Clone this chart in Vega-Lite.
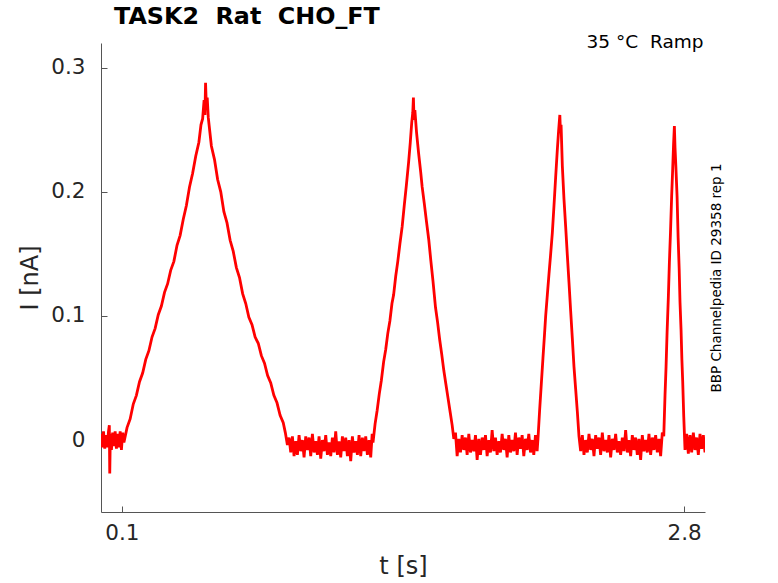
{
  "$schema": "https://vega.github.io/schema/vega-lite/v6.json",
  "width": 604,
  "height": 469,
  "autosize": {"type": "none"},
  "padding": {"left": 101, "top": 43, "right": 73, "bottom": 71},
  "title": {
    "text": "TASK2 \u00a0Rat \u00a0CHO_FT",
    "anchor": "start",
    "frame": "group",
    "dx": 13,
    "offset": -16,
    "baseline": "alphabetic",
    "fontSize": 23.8,
    "fontWeight": "bold",
    "font": "DejaVu Sans",
    "color": "#000000"
  },
  "data": {
    "values": [
      {"t": 0.000, "i": 0.005}, {"t": 0.006, "i": -0.006}, {"t": 0.012, "i": 0.007}, {"t": 0.018, "i": -0.007},
      {"t": 0.024, "i": 0.004}, {"t": 0.030, "i": -0.006}, {"t": 0.036, "i": 0.007}, {"t": 0.040, "i": 0.012},
      {"t": 0.042, "i": -0.027}, {"t": 0.045, "i": 0.005}, {"t": 0.050, "i": -0.008}, {"t": 0.056, "i": 0.006},
      {"t": 0.062, "i": -0.005}, {"t": 0.068, "i": 0.007}, {"t": 0.074, "i": -0.007}, {"t": 0.080, "i": 0.005},
      {"t": 0.086, "i": -0.006}, {"t": 0.092, "i": 0.007}, {"t": 0.098, "i": -0.008}, {"t": 0.104, "i": 0.006},
      {"t": 0.110, "i": -0.002}, {"t": 0.125, "i": 0.010}, {"t": 0.140, "i": 0.017}, {"t": 0.155, "i": 0.029},
      {"t": 0.170, "i": 0.036}, {"t": 0.185, "i": 0.047}, {"t": 0.200, "i": 0.054}, {"t": 0.215, "i": 0.065},
      {"t": 0.230, "i": 0.072}, {"t": 0.245, "i": 0.083}, {"t": 0.260, "i": 0.090}, {"t": 0.275, "i": 0.101},
      {"t": 0.290, "i": 0.108}, {"t": 0.305, "i": 0.119}, {"t": 0.320, "i": 0.126}, {"t": 0.335, "i": 0.137},
      {"t": 0.350, "i": 0.144}, {"t": 0.365, "i": 0.157}, {"t": 0.380, "i": 0.165}, {"t": 0.395, "i": 0.178},
      {"t": 0.410, "i": 0.189}, {"t": 0.425, "i": 0.204}, {"t": 0.440, "i": 0.215}, {"t": 0.455, "i": 0.229},
      {"t": 0.470, "i": 0.240}, {"t": 0.480, "i": 0.254}, {"t": 0.488, "i": 0.259}, {"t": 0.495, "i": 0.274},
      {"t": 0.499, "i": 0.262}, {"t": 0.502, "i": 0.288}, {"t": 0.506, "i": 0.268}, {"t": 0.510, "i": 0.276},
      {"t": 0.515, "i": 0.260}, {"t": 0.530, "i": 0.237}, {"t": 0.545, "i": 0.226}, {"t": 0.560, "i": 0.210},
      {"t": 0.575, "i": 0.200}, {"t": 0.590, "i": 0.184}, {"t": 0.605, "i": 0.175}, {"t": 0.620, "i": 0.161},
      {"t": 0.635, "i": 0.152}, {"t": 0.650, "i": 0.139}, {"t": 0.665, "i": 0.131}, {"t": 0.680, "i": 0.118},
      {"t": 0.695, "i": 0.110}, {"t": 0.710, "i": 0.099}, {"t": 0.725, "i": 0.093}, {"t": 0.740, "i": 0.083},
      {"t": 0.755, "i": 0.078}, {"t": 0.770, "i": 0.068}, {"t": 0.785, "i": 0.062}, {"t": 0.800, "i": 0.052},
      {"t": 0.815, "i": 0.046}, {"t": 0.830, "i": 0.036}, {"t": 0.845, "i": 0.030}, {"t": 0.860, "i": 0.020},
      {"t": 0.875, "i": 0.014}, {"t": 0.885, "i": 0.006}, {"t": 0.895, "i": -0.004},
      {"t": 0.903, "i": 0.002}, {"t": 0.911, "i": -0.010}, {"t": 0.919, "i": 0.003}, {"t": 0.927, "i": -0.013},
      {"t": 0.935, "i": -0.001}, {"t": 0.943, "i": -0.012}, {"t": 0.951, "i": 0.004}, {"t": 0.959, "i": -0.009},
      {"t": 0.967, "i": 0.000}, {"t": 0.975, "i": -0.014}, {"t": 0.983, "i": 0.003}, {"t": 0.991, "i": -0.008},
      {"t": 0.999, "i": 0.002}, {"t": 1.007, "i": -0.013}, {"t": 1.015, "i": 0.005}, {"t": 1.023, "i": -0.010},
      {"t": 1.031, "i": -0.001}, {"t": 1.039, "i": -0.012}, {"t": 1.047, "i": 0.003}, {"t": 1.055, "i": -0.015},
      {"t": 1.063, "i": 0.000}, {"t": 1.071, "i": -0.009}, {"t": 1.079, "i": 0.004}, {"t": 1.087, "i": -0.012},
      {"t": 1.095, "i": -0.002}, {"t": 1.103, "i": -0.013}, {"t": 1.111, "i": 0.002}, {"t": 1.119, "i": -0.010},
      {"t": 1.127, "i": 0.007}, {"t": 1.135, "i": -0.012}, {"t": 1.143, "i": -0.001}, {"t": 1.151, "i": -0.014},
      {"t": 1.159, "i": 0.003}, {"t": 1.167, "i": -0.009}, {"t": 1.175, "i": 0.002}, {"t": 1.183, "i": -0.013},
      {"t": 1.191, "i": 0.000}, {"t": 1.199, "i": -0.017}, {"t": 1.207, "i": 0.003}, {"t": 1.215, "i": -0.010},
      {"t": 1.223, "i": -0.001}, {"t": 1.231, "i": -0.012}, {"t": 1.239, "i": 0.004}, {"t": 1.247, "i": -0.013},
      {"t": 1.255, "i": 0.002}, {"t": 1.263, "i": -0.009}, {"t": 1.271, "i": 0.003}, {"t": 1.279, "i": -0.012},
      {"t": 1.287, "i": 0.000}, {"t": 1.295, "i": -0.014}, {"t": 1.302, "i": 0.005},
      {"t": 1.306, "i": -0.002}, {"t": 1.316, "i": 0.013}, {"t": 1.326, "i": 0.024}, {"t": 1.336, "i": 0.037},
      {"t": 1.346, "i": 0.048}, {"t": 1.357, "i": 0.063}, {"t": 1.367, "i": 0.073}, {"t": 1.377, "i": 0.086},
      {"t": 1.387, "i": 0.096}, {"t": 1.397, "i": 0.110}, {"t": 1.405, "i": 0.117}, {"t": 1.415, "i": 0.132},
      {"t": 1.425, "i": 0.144}, {"t": 1.435, "i": 0.158}, {"t": 1.446, "i": 0.172}, {"t": 1.456, "i": 0.189},
      {"t": 1.466, "i": 0.205}, {"t": 1.477, "i": 0.224}, {"t": 1.485, "i": 0.240}, {"t": 1.492, "i": 0.256},
      {"t": 1.497, "i": 0.264}, {"t": 1.500, "i": 0.276}, {"t": 1.503, "i": 0.258}, {"t": 1.507, "i": 0.266},
      {"t": 1.515, "i": 0.248}, {"t": 1.525, "i": 0.231}, {"t": 1.535, "i": 0.216}, {"t": 1.542, "i": 0.204},
      {"t": 1.552, "i": 0.191}, {"t": 1.562, "i": 0.177}, {"t": 1.574, "i": 0.161}, {"t": 1.584, "i": 0.144},
      {"t": 1.594, "i": 0.128}, {"t": 1.606, "i": 0.107}, {"t": 1.616, "i": 0.095}, {"t": 1.626, "i": 0.081},
      {"t": 1.636, "i": 0.069}, {"t": 1.646, "i": 0.056}, {"t": 1.656, "i": 0.045}, {"t": 1.666, "i": 0.034},
      {"t": 1.676, "i": 0.023}, {"t": 1.686, "i": 0.012}, {"t": 1.694, "i": 0.001},
      {"t": 1.702, "i": 0.006}, {"t": 1.710, "i": -0.013}, {"t": 1.718, "i": 0.001}, {"t": 1.726, "i": -0.010},
      {"t": 1.734, "i": 0.004}, {"t": 1.742, "i": -0.008}, {"t": 1.750, "i": 0.002}, {"t": 1.758, "i": -0.012},
      {"t": 1.766, "i": 0.005}, {"t": 1.774, "i": -0.010}, {"t": 1.782, "i": 0.000}, {"t": 1.790, "i": -0.009},
      {"t": 1.798, "i": 0.004}, {"t": 1.806, "i": -0.016}, {"t": 1.814, "i": 0.001}, {"t": 1.822, "i": -0.012},
      {"t": 1.830, "i": 0.002}, {"t": 1.838, "i": -0.008}, {"t": 1.846, "i": 0.004}, {"t": 1.854, "i": -0.013},
      {"t": 1.862, "i": 0.000}, {"t": 1.870, "i": -0.010}, {"t": 1.878, "i": 0.008}, {"t": 1.886, "i": -0.009},
      {"t": 1.894, "i": 0.002}, {"t": 1.902, "i": -0.012}, {"t": 1.910, "i": -0.001}, {"t": 1.918, "i": -0.010},
      {"t": 1.926, "i": 0.005}, {"t": 1.934, "i": -0.008}, {"t": 1.942, "i": 0.001}, {"t": 1.950, "i": -0.014},
      {"t": 1.958, "i": 0.004}, {"t": 1.966, "i": -0.010}, {"t": 1.974, "i": 0.000}, {"t": 1.982, "i": -0.009},
      {"t": 1.990, "i": 0.006}, {"t": 1.998, "i": -0.012}, {"t": 2.006, "i": 0.002}, {"t": 2.014, "i": -0.007},
      {"t": 2.022, "i": 0.004}, {"t": 2.030, "i": -0.013}, {"t": 2.038, "i": 0.001}, {"t": 2.046, "i": -0.008},
      {"t": 2.054, "i": 0.005}, {"t": 2.062, "i": -0.010}, {"t": 2.070, "i": 0.000}, {"t": 2.078, "i": -0.012},
      {"t": 2.086, "i": 0.004}, {"t": 2.094, "i": -0.009},
      {"t": 2.098, "i": 0.001}, {"t": 2.106, "i": 0.024}, {"t": 2.114, "i": 0.045}, {"t": 2.122, "i": 0.066},
      {"t": 2.129, "i": 0.084}, {"t": 2.135, "i": 0.100}, {"t": 2.143, "i": 0.117}, {"t": 2.151, "i": 0.134},
      {"t": 2.159, "i": 0.150}, {"t": 2.167, "i": 0.167}, {"t": 2.175, "i": 0.189}, {"t": 2.183, "i": 0.212},
      {"t": 2.191, "i": 0.234}, {"t": 2.197, "i": 0.249}, {"t": 2.203, "i": 0.262}, {"t": 2.206, "i": 0.248},
      {"t": 2.209, "i": 0.254}, {"t": 2.215, "i": 0.221}, {"t": 2.223, "i": 0.194}, {"t": 2.231, "i": 0.172},
      {"t": 2.239, "i": 0.149}, {"t": 2.247, "i": 0.127}, {"t": 2.255, "i": 0.104}, {"t": 2.263, "i": 0.082},
      {"t": 2.271, "i": 0.059}, {"t": 2.279, "i": 0.041}, {"t": 2.287, "i": 0.023}, {"t": 2.295, "i": 0.003},
      {"t": 2.303, "i": -0.009}, {"t": 2.311, "i": 0.004}, {"t": 2.319, "i": -0.012}, {"t": 2.327, "i": 0.000},
      {"t": 2.335, "i": -0.010}, {"t": 2.343, "i": 0.005}, {"t": 2.351, "i": -0.008}, {"t": 2.359, "i": 0.001},
      {"t": 2.367, "i": -0.013}, {"t": 2.375, "i": 0.004}, {"t": 2.383, "i": -0.007}, {"t": 2.391, "i": 0.002},
      {"t": 2.399, "i": -0.012}, {"t": 2.407, "i": 0.006}, {"t": 2.415, "i": -0.009}, {"t": 2.423, "i": 0.000},
      {"t": 2.431, "i": -0.010}, {"t": 2.439, "i": 0.004}, {"t": 2.447, "i": -0.014}, {"t": 2.455, "i": 0.001},
      {"t": 2.463, "i": -0.008}, {"t": 2.471, "i": 0.005}, {"t": 2.479, "i": -0.010}, {"t": 2.487, "i": -0.001},
      {"t": 2.495, "i": -0.012}, {"t": 2.503, "i": 0.002}, {"t": 2.511, "i": -0.009}, {"t": 2.519, "i": 0.008},
      {"t": 2.527, "i": -0.010}, {"t": 2.535, "i": 0.000}, {"t": 2.543, "i": -0.013}, {"t": 2.551, "i": 0.004},
      {"t": 2.559, "i": -0.008}, {"t": 2.567, "i": 0.002}, {"t": 2.575, "i": -0.012}, {"t": 2.583, "i": 0.001},
      {"t": 2.591, "i": -0.016}, {"t": 2.599, "i": 0.004}, {"t": 2.607, "i": -0.009}, {"t": 2.615, "i": 0.000},
      {"t": 2.623, "i": -0.010}, {"t": 2.631, "i": 0.005}, {"t": 2.639, "i": -0.012}, {"t": 2.647, "i": 0.002},
      {"t": 2.655, "i": -0.008}, {"t": 2.663, "i": 0.004}, {"t": 2.671, "i": -0.010}, {"t": 2.679, "i": 0.001},
      {"t": 2.687, "i": -0.013}, {"t": 2.695, "i": 0.006},
      {"t": 2.702, "i": 0.003}, {"t": 2.708, "i": 0.036}, {"t": 2.713, "i": 0.059}, {"t": 2.718, "i": 0.087},
      {"t": 2.724, "i": 0.115}, {"t": 2.729, "i": 0.143}, {"t": 2.734, "i": 0.166}, {"t": 2.740, "i": 0.197},
      {"t": 2.745, "i": 0.219}, {"t": 2.749, "i": 0.238}, {"t": 2.753, "i": 0.253}, {"t": 2.756, "i": 0.236},
      {"t": 2.760, "i": 0.221}, {"t": 2.766, "i": 0.196}, {"t": 2.771, "i": 0.163}, {"t": 2.776, "i": 0.138},
      {"t": 2.780, "i": 0.111}, {"t": 2.785, "i": 0.089}, {"t": 2.789, "i": 0.065}, {"t": 2.793, "i": 0.047},
      {"t": 2.798, "i": 0.019}, {"t": 2.804, "i": -0.008},
      {"t": 2.812, "i": 0.005}, {"t": 2.820, "i": -0.011}, {"t": 2.828, "i": 0.004}, {"t": 2.836, "i": -0.010},
      {"t": 2.844, "i": 0.006}, {"t": 2.852, "i": -0.008}, {"t": 2.860, "i": 0.002}, {"t": 2.868, "i": -0.012},
      {"t": 2.876, "i": 0.005}, {"t": 2.884, "i": -0.007}, {"t": 2.892, "i": 0.004}, {"t": 2.900, "i": -0.010}
    ]
  },
  "layer": [
    {
      "mark": {"type": "line", "color": "#ff0000", "strokeWidth": 2.8, "clip": true},
      "encoding": {
        "x": {
          "field": "t",
          "type": "quantitative",
          "scale": {"domain": [0, 2.9], "nice": false, "zero": false},
          "axis": {
            "orient": "bottom",
            "title": "t [s]",
            "values": [0.1, 2.8],
            "format": ".1f",
            "grid": false,
            "tickSize": -6,
            "labelPadding": 16,
            "labelFontSize": 21.5,
            "labelFlush": false,
            "titleFontSize": 24,
            "titleFontWeight": "normal",
            "titlePadding": 11
          }
        },
        "y": {
          "field": "i",
          "type": "quantitative",
          "scale": {"domain": [-0.058, 0.32], "nice": false, "zero": false},
          "axis": {
            "orient": "left",
            "title": "I [nA]",
            "values": [0, 0.1, 0.2, 0.3],
            "format": ".1~f",
            "grid": false,
            "tickSize": -6,
            "labelPadding": 22,
            "labelFontSize": 21.5,
            "titleFontSize": 24,
            "titleFontWeight": "normal",
            "titlePadding": 8
          }
        }
      }
    },
    {
      "mark": {"type": "line", "opacity": 0},
      "encoding": {
        "x": {
          "field": "t",
          "type": "quantitative",
          "axis": {
            "orient": "top",
            "title": "35 °C \u00a0Ramp",
            "domain": false,
            "ticks": false,
            "labels": false,
            "grid": false,
            "titleFontSize": 18.5,
            "titleFontWeight": "normal",
            "titleColor": "#000000",
            "titleAnchor": "end",
            "titleAlign": "right",
            "titleX": 602,
            "titleBaseline": "alphabetic",
            "titlePadding": -4
          }
        },
        "y": {
          "field": "i",
          "type": "quantitative",
          "axis": {
            "orient": "right",
            "title": "BBP Channelpedia ID 29358 rep 1",
            "domain": false,
            "ticks": false,
            "labels": false,
            "grid": false,
            "titleFontSize": 13.5,
            "titleFontWeight": "normal",
            "titleColor": "#000000",
            "titleAngle": 270,
            "titleBaseline": "top",
            "titlePadding": 4
          }
        }
      }
    }
  ],
  "resolve": {"axis": {"x": "independent", "y": "independent"}},
  "config": {
    "view": {"stroke": null},
    "font": "DejaVu Sans",
    "axis": {
      "domainColor": "#555555",
      "tickColor": "#555555",
      "labelColor": "#262626",
      "titleColor": "#262626",
      "labelFont": "DejaVu Sans",
      "titleFont": "DejaVu Sans"
    }
  }
}
